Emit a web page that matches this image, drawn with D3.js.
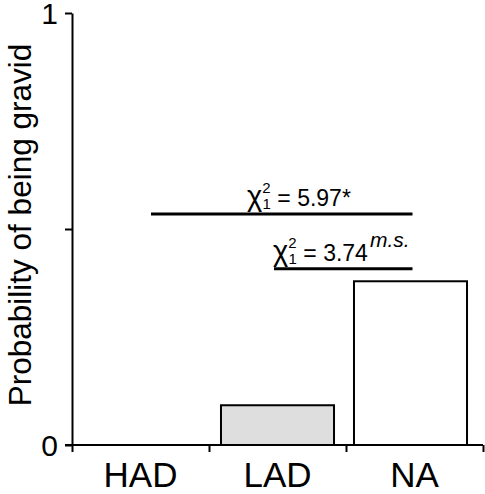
<!DOCTYPE html>
<html>
<head>
<meta charset="utf-8">
<script src="https://cdn.jsdelivr.net/npm/d3@7"></script>
<style>
  body { margin: 0; background: #fff; }
  svg { display: block; font-family: 'Liberation Sans', Arial, sans-serif; }
</style>
</head>
<body>
<div id="chart"></div>
<script>
'use strict';

// categories and the probability of being gravid for each
const groups = ['HAD', 'LAD', 'NA'];
const probGravid = [0, 0.092, 0.379];
const barFills = ['#dedede', '#dedede', '#ffffff'];

// chi square comparisons drawn above the bars
const compFrom = ['HAD', 'LAD'];
const compTo = ['NA', 'NA'];
const compLevel = [0.535, 0.408];
const compValue = ['5.97', '3.74'];
const compMark = ['*', 'm.s.'];

const yTicks = [0, 0.5, 1];

const width = 485;
const height = 494;

const svg = d3.select('#chart')
  .append('svg')
    .attr('width', width)
    .attr('height', height);

// x scale for the bars, one band per group
const x = d3.scaleBand()
  .domain(groups)
  .range([72, 483])
  .padding(0);

// y scale
const y = d3.scaleLinear()
  .domain([0, 1])
  .range([445, 13]);

// bars
const barW = x.bandwidth() * 0.825;
svg.selectAll('rect.bar')
  .data(groups.map((g, i) => ({ g: g, v: probGravid[i], fill: barFills[i] })).filter(d => d.v > 0))
  .join('rect')
    .attr('class', 'bar')
    .attr('x', d => x(d.g) + x.bandwidth() / 2 - barW / 2 - (d.g === 'NA' ? 4 : 0))
    .attr('y', d => y(d.v))
    .attr('width', barW)
    .attr('height', d => y(0) - y(d.v))
    .attr('fill', d => d.fill)
    .attr('stroke', '#000')
    .attr('stroke-width', 2);

// Y axis
const yAxis = svg.append('g')
  .attr('transform', 'translate(72,0)')
  .call(d3.axisLeft(y)
    .tickValues(yTicks)
    .tickFormat(d => (d === 0.5 ? '' : d))
    .tickSize(7)
    .tickSizeOuter(0));
yAxis.select('.domain').attr('stroke-width', 2);
yAxis.selectAll('.tick line').attr('stroke-width', 2);
yAxis.selectAll('.tick text')
  .attr('font-size', 30)
  .attr('font-family', "'Liberation Sans', Arial, sans-serif")
  .attr('x', -14)
  .attr('dy', '0.36em');

// X axis: line, ticks at band edges, labels in the band centres
const xEdge = d3.scaleLinear().domain([0, groups.length]).range(x.range());
const xTicks = svg.append('g')
  .attr('transform', `translate(0,${y(0)})`)
  .call(d3.axisBottom(xEdge)
    .tickValues(d3.range(groups.length + 1))
    .tickFormat('')
    .tickSize(7)
    .tickSizeOuter(0));
xTicks.select('.domain').remove();
xTicks.selectAll('.tick line').attr('stroke-width', 2);

svg.append('line')
  .attr('x1', 65)
  .attr('x2', x.range()[1])
  .attr('y1', y(0))
  .attr('y2', y(0))
  .attr('stroke', '#000')
  .attr('stroke-width', 2);

const xLabels = svg.append('g')
  .attr('transform', `translate(0,${y(0)})`)
  .call(d3.axisBottom(x).tickSize(0).tickPadding(0));
xLabels.select('.domain').remove();
xLabels.selectAll('.tick text')
  .attr('font-size', 35)
  .attr('font-family', "'Liberation Sans', Arial, sans-serif")
  .attr('fill', '#000')
  .attr('y', 42)
  .attr('dy', 0);

// Y axis title
svg.append('text')
  .attr('transform', `translate(31,${(y(0) + y(1)) / 2 - 4}) rotate(-90)`)
  .attr('text-anchor', 'middle')
  .attr('font-size', 31.5)
  .text('Probability of being gravid');

// comparison lines and chi square labels
const lineStart = [151, 274];
const textStart = [247, 273];
compFrom.forEach((from, i) => {
  const ly = y(compLevel[i]);
  svg.append('line')
    .attr('x1', lineStart[i])
    .attr('x2', x(compTo[i]) + x.bandwidth() / 2 - 2)
    .attr('y1', ly)
    .attr('y2', ly)
    .attr('stroke', '#000')
    .attr('stroke-width', 3);

  const t = svg.append('text')
    .attr('x', textStart[i])
    .attr('y', ly - 8)
    .attr('font-size', 23);
  t.append('tspan').attr('font-size', 29).text('χ');
  t.append('tspan').attr('font-size', 15).attr('dy', -13).text('2');
  t.append('tspan').attr('font-size', 15).attr('dx', -8).attr('dy', 16).text('1');
  t.append('tspan').attr('dy', -3).text(' = ' + compValue[i]);
  if (compMark[i] === '*') {
    t.append('tspan').attr('dy', 0).text('*');
  } else {
    t.append('tspan').attr('font-size', 21).attr('font-style', 'italic')
      .attr('dx', 2).attr('dy', -14).text(compMark[i]);
  }
});
</script>
</body>
</html>
